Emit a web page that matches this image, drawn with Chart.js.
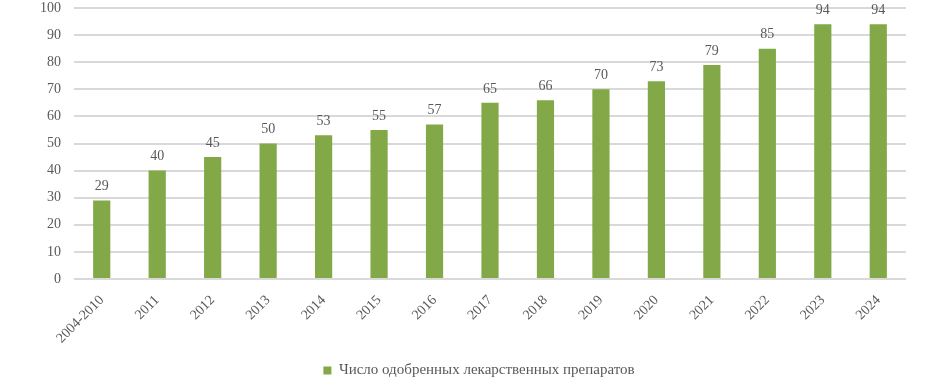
<!DOCTYPE html>
<html><head><meta charset="utf-8">
<script src="https://cdn.jsdelivr.net/npm/chart.js@4/dist/chart.umd.min.js"></script>
<style>html,body{margin:0;padding:0;background:#fff}#w{width:945px;height:381px}</style>
</head><body><div id="w"><canvas id="c"></canvas></div>
<script>
const categories = ["2004-2010","2011","2012","2013","2014","2015","2016","2017","2018","2019","2020","2021","2022","2023","2024"];
const approved = [29,40,45,50,53,55,57,65,66,70,73,79,85,94,94];
const seriesName = "Число одобренных лекарственных препаратов";
const yTicks = [0,10,20,30,40,50,60,70,80,90,100];

const FONT = "'Liberation Serif', 'Times New Roman', serif";
const TXT = "#595959";
const GREEN = "#82a847";

const labelsPlugin = {
  id: 'valLabels',
  afterLayout(chart) {
    const lg = chart.legend;
    if (lg) { lg.top += 7; lg.bottom += 7; lg.left += 26; lg.right += 26; }
  },
  afterDatasetsDraw(chart) {
    const ctx = chart.ctx;
    const meta = chart.getDatasetMeta(0);
    ctx.save();
    ctx.font = "14px " + FONT;
    ctx.fillStyle = TXT;
    ctx.textAlign = 'center';
    ctx.textBaseline = 'bottom';
    meta.data.forEach((bar, i) => {
      ctx.fillText(String(approved[i]), bar.x, bar.y - 7);
    });
    ctx.restore();
  }
};

new Chart(document.getElementById('c'), {
  type: 'bar',
  data: {
    labels: categories,
    datasets: [{
      label: seriesName,
      data: approved,
      backgroundColor: GREEN,
      borderWidth: 0,
      barPercentage: 0.31,
      categoryPercentage: 1.0
    }]
  },
  options: {
    responsive: true,
    maintainAspectRatio: false,
    animation: false,
    devicePixelRatio: 1,
    layout: { padding: { top: 8, right: 39, left: 0, bottom: 0 } },
    plugins: {
      legend: {
        position: 'bottom',
        labels: {
          font: { family: FONT, size: 15 },
          color: TXT,
          boxWidth: 8,
          boxHeight: 8,
          padding: 0
        }
      },
      tooltip: { enabled: false }
    },
    scales: {
      x: {
        grid: { display: false },
        border: { display: false },
        ticks: {
          font: { family: FONT, size: 14 },
          color: TXT,
          minRotation: 45,
          maxRotation: 45,
          autoSkip: false,
          padding: 5
        },
        afterFit(s) { s.height = 77; }
      },
      y: {
        min: 0, max: 100,
        afterBuildTicks(s) { s.ticks = yTicks.map(v => ({ value: v })); },
        grid: { color: '#d9d9d9', lineWidth: 2, drawTicks: false },
        border: { display: false },
        ticks: {
          font: { family: FONT, size: 14 },
          color: TXT,
          padding: 13
        },
        afterFit(s) { s.width = 74; s.paddingTop = 0; s.paddingBottom = 0; }
      }
    }
  },
  plugins: [labelsPlugin]
});
</script>
</body></html>
